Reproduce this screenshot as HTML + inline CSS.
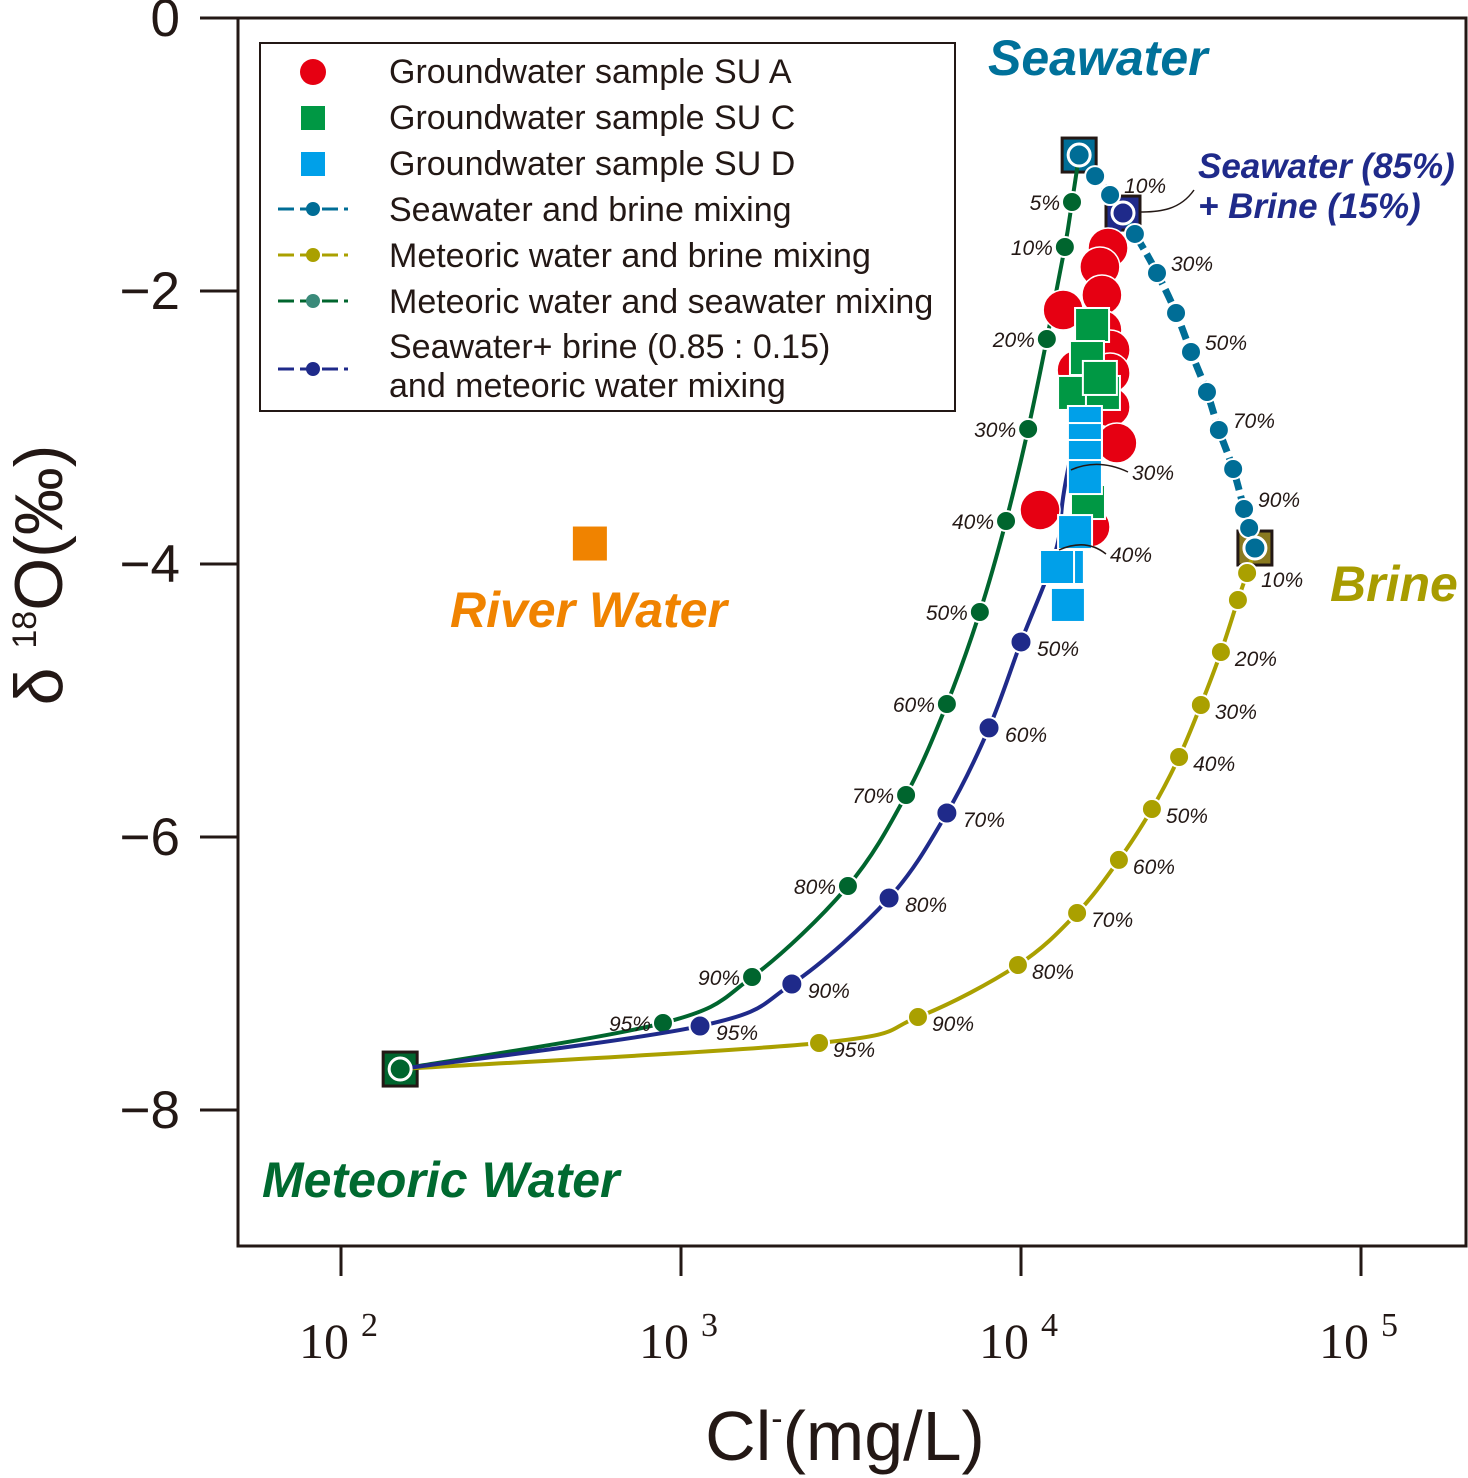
<!DOCTYPE html>
<html><head><meta charset="utf-8"><style>
html,body{margin:0;padding:0;background:#fff;}
svg{display:block;font-family:"Liberation Sans",sans-serif;}
</style></head><body>
<svg id="chart" width="1468" height="1478" viewBox="0 0 1468 1478" xmlns="http://www.w3.org/2000/svg">
<g id="plot"></g>
</svg>
<script>
// ---- data (log10 Cl in mg/L, d18O in permil) ----
const greenLogCl = [4.171,4.150,4.129,4.076,4.021,3.956,3.879,3.782,3.662,3.491,3.209,2.947,2.174];
const greenD18O  = [-1.004,-1.348,-1.678,-2.352,-3.011,-3.685,-4.352,-5.026,-5.692,-6.359,-7.026,-7.363,-7.700];
const tealLogCl  = [4.171,4.218,4.262,4.335,4.400,4.456,4.500,4.547,4.582,4.624,4.656,4.671,4.688];
const tealD18O   = [-1.004,-1.158,-1.297,-1.582,-1.868,-2.161,-2.447,-2.740,-3.018,-3.304,-3.597,-3.736,-3.883];
const oliveLogCl = [4.688,4.665,4.638,4.588,4.529,4.465,4.385,4.288,4.165,3.991,3.697,3.406,2.174];
const oliveD18O  = [-3.883,-4.066,-4.264,-4.645,-5.033,-5.414,-5.795,-6.168,-6.557,-6.938,-7.319,-7.509,-7.700];
const navyLogCl  = [4.300,4.138,4.103,4.000,3.906,3.782,3.612,3.326,3.056,2.174];
const navyD18O   = [-1.429,-3.311,-3.897,-4.571,-5.201,-5.824,-6.447,-7.077,-7.385,-7.700];
const suALogCl = [4.256,4.232,4.238,4.124,4.238,4.262,4.165,4.262,4.262,4.282,4.056,4.203];
const suAD18O  = [-1.685,-1.824,-2.029,-2.139,-2.286,-2.432,-2.579,-2.601,-2.850,-3.114,-3.604,-3.729];
const suCLogCl = [4.209,4.194,4.159,4.241,4.232,4.197];
const suCD18O  = [-2.249,-2.491,-2.747,-2.747,-2.637,-3.546];
const suDLogCl = [4.188,4.188,4.188,4.188,4.159,4.135,4.106,4.138];
const suDD18O  = [-2.967,-3.092,-3.216,-3.363,-3.766,-4.022,-4.022,-4.300];
const riverLogCl = [2.732];
const riverD18O = [-3.85];
const yTicks = [0,-2,-4,-6,-8];
const yTickLabels = ["0","\u22122","\u22124","\u22126","\u22128"];
const xTicks = [2,3,4,5];
const greenPct = ["","5%","10%","20%","30%","40%","50%","60%","70%","80%","90%","95%",""];
const tealPct  = ["","","10%","","30%","","50%","","70%","","90%","",""];
const olivePct = ["","10%","","20%","30%","40%","50%","60%","70%","80%","90%","95%",""];
const navyPct  = ["","","","50%","60%","70%","80%","90%","95%",""];

// ---- axes ----
const X0=341, XPD=340, Y0=18, YPU=136.5;
const xs = l => X0 + (l-2)*XPD;
const ys = d => Y0 - d*YPU;
const NS="http://www.w3.org/2000/svg";
const g=document.getElementById('plot');
function mk(tag,attrs,parent){const e=document.createElementNS(NS,tag);for(const k in attrs)e.setAttribute(k,attrs[k]);(parent||g).appendChild(e);return e;}

let fr=mk('rect',{x:238,y:18,width:1228,height:1228,fill:'none',stroke:'#231815','stroke-width':3});


yTicks.forEach((v,i)=>{
  let t=mk('line',{x1:200,x2:238,y1:ys(v),y2:ys(v),stroke:'#231815','stroke-width':3});
  
  
  let tx=mk('text',{x:180,y:ys(v)+18,'text-anchor':'end','font-size':53,fill:'#231815'});
  tx.textContent=yTickLabels[i];
  
  
});
xTicks.forEach(v=>{
  let t=mk('line',{x1:xs(v),x2:xs(v),y1:1246,y2:1276,stroke:'#231815','stroke-width':3});
  
  
  let tx=mk('text',{x:xs(v)-42,y:1358,'font-size':50,fill:'#231815','font-family':'Liberation Serif, serif'});
  tx.innerHTML='10<tspan dx="12" dy="-22" font-size="34">'+v+'</tspan>';
  
  
});
let xt=mk('text',{x:845,y:1460,'text-anchor':'middle','font-size':70,fill:'#231815'});
xt.innerHTML='Cl<tspan dy="-30" font-size="34">-</tspan><tspan dy="30">(mg/L)</tspan>';


let yt=mk('text',{x:0,y:0,'text-anchor':'middle','font-size':68,fill:'#231815',transform:'translate(62,575) rotate(-90)'});
yt.innerHTML='δ <tspan dy="-26" font-size="34">18</tspan><tspan dy="26">O(‰)</tspan>';



function smoothPath(px,py){
  let d='M'+px[0]+','+py[0];
  for(let i=0;i<px.length-1;i++){
    const p0=i>0?i-1:i, p3=i+2<px.length?i+2:i+1;
    const c1x=px[i]+(px[i+1]-px[p0])/6, c1y=py[i]+(py[i+1]-py[p0])/6;
    const c2x=px[i+1]-(px[p3]-px[i])/6, c2y=py[i+1]-(py[p3]-py[i])/6;
    d+=' C'+c1x+','+c1y+' '+c2x+','+c2y+' '+px[i+1]+','+py[i+1];
  }
  return d;
}
function curve(name,lx,ly,pct,color,dash,r,labelDx,labelDy,skipMarkers){
  const px=lx.map(xs), py=ly.map(ys);
  let p=mk('path',{d:smoothPath(px,py),fill:'none',stroke:color,'stroke-width':dash?7:4,'stroke-dasharray':dash||'none'});
  
  
  px.forEach((x,i)=>{
    if(skipMarkers.includes(i))return;
    let c=mk('circle',{cx:x,cy:py[i],r:r,fill:color,stroke:'#fff','stroke-width':2});
    
    
    if(pct[i]){
      let t=mk('text',{x:x+labelDx,y:py[i]+labelDy,'font-size':21,'font-style':'italic',fill:'#231815','text-anchor':labelDx<0?'end':'start'});
      t.textContent=pct[i];
      
      
    }
  });
}
function endSq(name,l,d,fill){
  let s=mk('rect',{x:xs(l)-17,y:ys(d)-17,width:34,height:34,fill:fill,stroke:'#231815','stroke-width':3});
  
  
}
endSq('seawater-endmember',4.171,-1.004,'#006d96');
endSq('brine-endmember',4.688,-3.883,'#8a7a20');
endSq('mix-endmember',4.300,-1.429,'#1f2a8a');
endSq('meteoric-endmember',2.174,-7.700,'#00652e');

curve('meteoric-brine',oliveLogCl,oliveD18O,olivePct,'#aaa000',null,10,14,14,[0]);
curve('meteoric-seawater',greenLogCl,greenD18O,greenPct,'#00652e',null,10,-12,8,[0]);
curve('mix-meteoric',navyLogCl,navyD18O,navyPct,'#1f2a8a',null,10.5,16,14,[1,2]);
curve('seawater-brine',tealLogCl,tealD18O,tealPct,'#006d96','14 6',10,14,-2,[]);

// endmember ring markers
function ring(name,l,d,fill){
  let c=mk('circle',{cx:xs(l),cy:ys(d),r:11,fill:fill,stroke:'#fff','stroke-width':3});
  
  
}
ring('seawater-ring',4.171,-1.004,'#006d96');
ring('mix-ring',4.300,-1.429,'#1f2a8a');
ring('brine-ring',4.688,-3.883,'#006d96');
ring('meteoric-ring',2.174,-7.700,'#00652e');

// samples
suALogCl.forEach((l,i)=>{let c=mk('circle',{cx:xs(l),cy:ys(suAD18O[i]),r:20,fill:'#e60012',stroke:'#fff','stroke-width':1.5});
  
  });
suCLogCl.forEach((l,i)=>{let c=mk('rect',{x:xs(l)-17,y:ys(suCD18O[i])-17,width:34,height:34,fill:'#009844',stroke:'#fff','stroke-width':2});
  
  });
suDLogCl.forEach((l,i)=>{let c=mk('rect',{x:xs(l)-17,y:ys(suDD18O[i])-17,width:34,height:34,fill:'#00a0e9',stroke:'#fff','stroke-width':2});
  
  });
riverLogCl.forEach((l,i)=>{let c=mk('rect',{x:xs(l)-17,y:ys(riverD18O[i])-17,width:34,height:34,fill:'#f08300'});
  
  });

// navy 30/40 labels with arrows
function arrowLabel(txt,l,d,tx,ty,name){
  const x=xs(l), y=ys(d);
  let p=mk('path',{d:'M'+(tx-4)+','+(ty-8)+' Q'+(x+30)+','+(y-12)+' '+(x+3)+','+y,fill:'none',stroke:'#231815','stroke-width':1.5});
  
  
  let t=mk('text',{x:tx,y:ty,'font-size':21,'font-style':'italic',fill:'#231815'});
  t.textContent=txt;
  
  
}
arrowLabel('30%',navyLogCl[1],navyD18O[1],1132,480,'mix-meteoric-percent-label');
arrowLabel('40%',navyLogCl[2],navyD18O[2],1110,562,'mix-meteoric-percent-label');

function label(txt,x,y,size,color,name){let t=mk('text',{x:x,y:y,'font-size':size,'font-weight':'bold','font-style':'italic',fill:color});t.textContent=txt;
  
  }
label('Seawater',988,75,50,'#00719a','seawater-label');
label('Seawater (85%)',1198,178,35,'#1f2a8a','mix-label-line1');
label('+ Brine (15%)',1198,218,35,'#1f2a8a','mix-label-line2');
label('Brine',1330,601,50,'#a89c00','brine-label');
label('River Water',450,627,50,'#f08300','river-water-label');
label('Meteoric Water',262,1197,50,'#006a30','meteoric-water-label');
let ar=mk('path',{d:'M1194,190 C1180,210 1160,212 1140,212',fill:'none',stroke:'#231815','stroke-width':1.5});



// legend
let lg=mk('g',{});


mk('rect',{x:260,y:43,width:695,height:368,fill:'#fff',stroke:'#231815','stroke-width':2},lg);
const legText=['Groundwater sample SU A','Groundwater sample SU C','Groundwater sample SU D','Seawater and brine mixing','Meteoric water and brine mixing','Meteoric water and seawater mixing'];
const legY=[71,117,163,209,255,301];
legText.forEach((t,i)=>{
  let tx=mk('text',{x:389,y:legY[i]+12,'font-size':34,fill:'#231815'},lg);
  tx.textContent=t;
  
  
});
mk('circle',{cx:313,cy:72,r:13,fill:'#e60012'},lg);
mk('rect',{x:301,y:106,width:24,height:24,fill:'#009844'},lg);
mk('rect',{x:301,y:152,width:24,height:24,fill:'#00a0e9'},lg);
[[209,'#006d96','#006d96'],[255,'#aaa000','#aaa000'],[301,'#00652e','#3a8a7a'],[369,'#1f2a8a','#1f2a8a']].forEach(a=>{
  mk('line',{x1:278,x2:348,y1:a[0],y2:a[0],stroke:a[1],'stroke-width':3,'stroke-dasharray':'16 6'},lg);
  mk('circle',{cx:313,cy:a[0],r:7,fill:a[2]},lg);
});
let l1=mk('text',{x:389,y:358,'font-size':34,fill:'#231815'},lg);l1.textContent='Seawater+ brine (0.85 : 0.15)';
let l2=mk('text',{x:389,y:397,'font-size':34,fill:'#231815'},lg);l2.textContent='and meteoric water mixing';
</script>
</body></html>
